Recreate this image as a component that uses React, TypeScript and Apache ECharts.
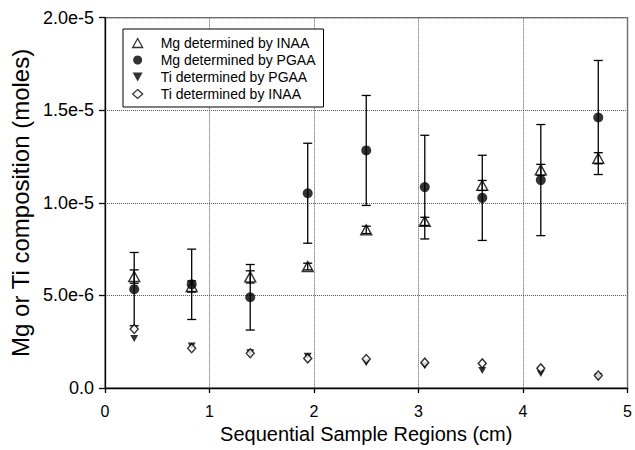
import React, { useEffect, useRef } from "react";
import * as echarts from "echarts";

const regions = [0.28, 0.83, 1.39, 1.94, 2.5, 3.06, 3.61, 4.17, 4.72];
const mgInaa = [6.02e-6, 5.48e-6, 6.0e-6, 6.56e-6, 8.54e-6, 9.0e-6, 10.94e-6, 11.78e-6, 12.41e-6];
const mgInaaErr = [0.36e-6, 0.3e-6, 0.33e-6, 0.18e-6, 0.2e-6, 0.22e-6, 0.27e-6, 0.3e-6, 0.3e-6];
const mgPgaa = [5.34e-6, 5.6e-6, 4.9e-6, 10.52e-6, 12.83e-6, 10.85e-6, 10.27e-6, 11.23e-6, 14.61e-6];
const mgPgaaErr = [1.98e-6, 1.9e-6, 1.77e-6, 2.7e-6, 2.97e-6, 2.8e-6, 2.3e-6, 3.0e-6, 3.08e-6];
const tiPgaa = [2.67e-6, 2.27e-6, 1.9e-6, 1.72e-6, 1.36e-6, 1.2e-6, 0.95e-6, 0.78e-6, 0.62e-6];
const tiInaa = [3.19e-6, 2.15e-6, 1.88e-6, 1.6e-6, 1.57e-6, 1.37e-6, 1.33e-6, 1.06e-6, 0.67e-6];
const seriesNames = [
  "Mg determined by INAA",
  "Mg determined by PGAA",
  "Ti determined by PGAA",
  "Ti determined by INAA",
];
const xTitle = "Sequential Sample Regions (cm)";
const yTitle = "Mg or Ti composition (moles)";

const FONT = "Liberation Sans, Arial, sans-serif";
const DOWN_TRI = "path://M0,0L10,0L5,9Z";

function errorSeries(vals: number[], errs: number[], hw: number) {
  return {
    type: "custom",
    silent: true,
    z: 1,
    data: regions.map((x, i) => [x, vals[i], errs[i]]),
    renderItem: (params: any, api: any) => {
      const x = api.value(0);
      const y = api.value(1);
      const e = api.value(2);
      const top = api.coord([x, y + e]);
      const bot = api.coord([x, y - e]);
      const style = { stroke: "#000", lineWidth: 1.3 };
      return {
        type: "group",
        children: [
          { type: "line", shape: { x1: top[0], y1: top[1], x2: bot[0], y2: bot[1] }, style },
          { type: "line", shape: { x1: top[0] - hw, y1: top[1], x2: top[0] + hw, y2: top[1] }, style },
          { type: "line", shape: { x1: bot[0] - hw, y1: bot[1], x2: bot[0] + hw, y2: bot[1] }, style },
        ],
      };
    },
  };
}

export default function App() {
  const ref = useRef<HTMLDivElement>(null);
  useEffect(() => {
    document.body.style.margin = "0";
    const chart = echarts.init(ref.current!, undefined, { renderer: "svg" });
    const pts = (vals: number[]) => regions.map((x, i) => [x, vals[i]]);
    const gridLine = { show: true, lineStyle: { color: "#555", type: [1, 1], width: 1 } };
    chart.setOption({
      animation: false,
      backgroundColor: "#fff",
      textStyle: { fontFamily: FONT },
      grid: {
        left: 101.5,
        right: 2.3,
        top: 17.7,
        bottom: 62,
        show: true,
        borderColor: "#888",
        borderWidth: 1.5,
        backgroundColor: "transparent",
      },
      legend: {
        show: true,
        orient: "vertical",
        left: 123,
        top: 29,
        padding: [7, 8, 6, 9],
        itemWidth: 10,
        itemHeight: 9,
        itemGap: 3,
        borderColor: "#000",
        borderWidth: 1,
        backgroundColor: "#fff",
        data: [
          { name: seriesNames[0], icon: "triangle", itemStyle: { color: "#fff", borderColor: "#000", borderWidth: 1.3 } },
          { name: seriesNames[1], icon: "circle", itemStyle: { color: "#000" } },
          { name: seriesNames[2], icon: DOWN_TRI, itemStyle: { color: "#000" } },
          { name: seriesNames[3], icon: "diamond", itemStyle: { color: "#fff", borderColor: "#000", borderWidth: 1.3 } },
        ],
        textStyle: {
          fontFamily: FONT,
          fontSize: 14,
          color: "#000",
          lineHeight: 14,
          padding: [0, 0, 0, 13],
        },
      },
      xAxis: {
        type: "value",
        min: 0,
        max: 5,
        interval: 1,
        name: xTitle,
        nameLocation: "middle",
        nameGap: 34,
        nameTextStyle: { fontFamily: FONT, fontSize: 20, color: "#000" },
        axisLine: { show: true, lineStyle: { color: "#000", width: 1.3 } },
        axisTick: { show: true, length: 5, lineStyle: { color: "#000", width: 1.3 } },
        axisLabel: { fontFamily: FONT, fontSize: 16, color: "#000", margin: 15 },
        splitLine: gridLine,
      },
      yAxis: {
        type: "value",
        min: 0,
        max: 2e-5,
        interval: 5e-6,
        name: yTitle,
        nameLocation: "middle",
        nameGap: 70,
        nameTextStyle: { fontFamily: FONT, fontSize: 24, color: "#000" },
        axisLine: { show: true, lineStyle: { color: "#000", width: 1.3 } },
        axisTick: { show: true, length: 6, lineStyle: { color: "#000", width: 1.3 } },
        axisLabel: {
          fontFamily: FONT,
          fontSize: 18,
          color: "#000",
          margin: 11,
          formatter: (v: number) => (v === 0 ? "0.0" : v.toExponential(1)),
        },
        splitLine: gridLine,
      },
      series: [
        errorSeries(mgInaa, mgInaaErr, 4.5),
        errorSeries(mgPgaa, mgPgaaErr, 4.5),
        {
          name: seriesNames[0],
          type: "scatter",
          z: 3,
          data: pts(mgInaa),
          symbol: "triangle",
          symbolSize: [11, 10],
          itemStyle: { color: "transparent", borderColor: "#000", borderWidth: 1.4 },
        },
        {
          name: seriesNames[1],
          type: "scatter",
          z: 4,
          data: pts(mgPgaa),
          symbol: "circle",
          symbolSize: 10,
          itemStyle: { color: "#000" },
        },
        {
          name: seriesNames[2],
          type: "scatter",
          z: 5,
          data: pts(tiPgaa),
          symbol: DOWN_TRI,
          symbolSize: [8, 7],
          itemStyle: { color: "#000" },
        },
        {
          name: seriesNames[3],
          type: "scatter",
          z: 6,
          data: pts(tiInaa),
          symbol: "diamond",
          symbolSize: [8, 9],
          itemStyle: { color: "#fff", borderColor: "#000", borderWidth: 1.4 },
        },
      ],
    });
    return () => chart.dispose();
  }, []);
  return (
    <div
      ref={ref}
      style={{ position: "fixed", left: 0, top: 0, width: 635, height: 450 }}
    />
  );
}
